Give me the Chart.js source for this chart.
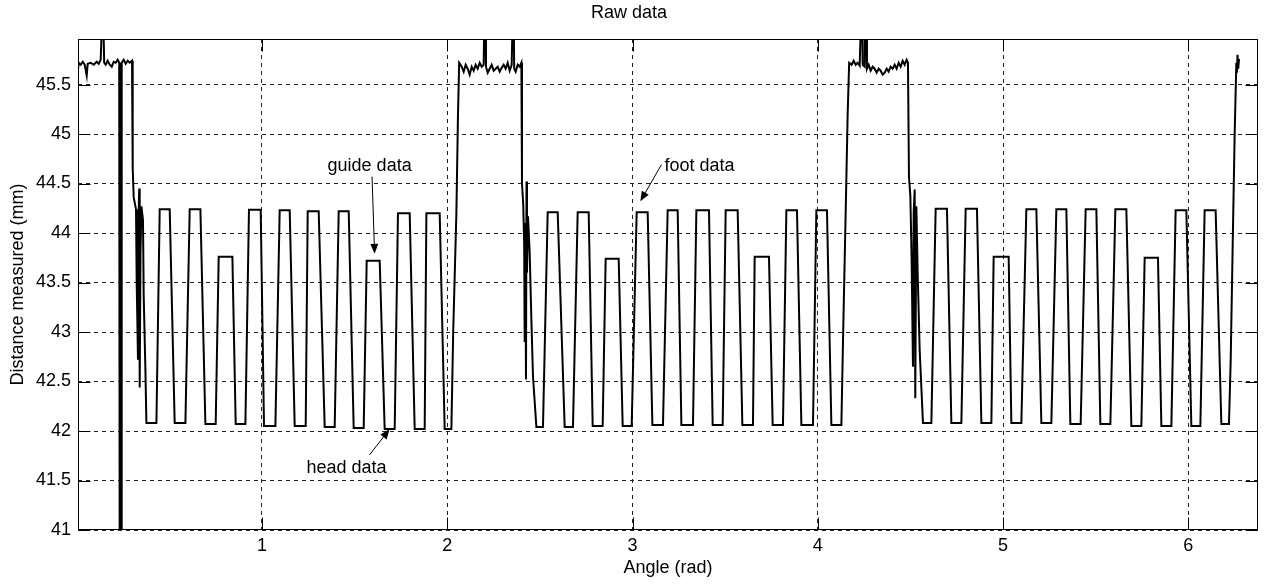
<!DOCTYPE html>
<html>
<head>
<meta charset="utf-8">
<title>Raw data</title>
<script src="https://cdn.jsdelivr.net/npm/chart.js@4.4.1/dist/chart.umd.min.js"></script>
<style>
  body { margin: 0; background: #fff; }
</style>
</head>
<body>
<canvas id="rawChart" width="1265" height="585"></canvas>
<script>
// angle (rad) / distance (mm)

// flat parts and transitions, [angle, distance]
const plateau1 = [[0.0054,45.62],[0.0108,45.72],[0.0216,45.70],[0.0324,45.73],[0.0432,45.70],[0.0540,45.59],
  [0.0594,45.71],[0.0756,45.72],[0.0918,45.70],[0.1079,45.73],[0.1187,45.71],[0.1295,45.75],[0.1376,46.2],
  [0.1430,46.2],[0.1484,45.72],[0.1565,45.70],[0.1673,45.74],[0.1781,45.70],[0.1889,45.68],[0.1997,45.73],
  [0.2105,45.72],[0.2213,45.75],[0.2294,45.72],[0.2321,40.5],[0.2402,40.5],[0.2429,45.72],[0.2537,45.75],
  [0.2645,45.71],[0.2753,45.74],[0.2861,45.72],[0.2985,45.74]];
const drop1 = [[0.3022,44.66],[0.3076,44.36],[0.3201,44.24],[0.3238,43.5],[0.3308,42.72],[0.3335,44.1],
  [0.3373,44.45],[0.3400,42.44],[0.3443,43.8],[0.3492,44.27],[0.3578,44.13],[0.3616,43.36],[0.3708,42.62]];
const rise1 = [[2.0321,43.0],[2.0493,44.2],[2.0580,45.2],[2.0644,45.72]];
const plateau2 = [[2.0671,45.72],[2.0779,45.68],[2.0887,45.63],[2.0995,45.70],[2.1103,45.66],[2.1211,45.60],
  [2.1319,45.68],[2.1427,45.64],[2.1535,45.70],[2.1643,45.66],[2.1750,45.72],[2.1858,45.68],[2.1966,45.70],
  [2.2004,46.2],[2.2058,46.2],[2.2091,45.68],[2.2182,45.62],[2.2290,45.66],[2.2398,45.70],[2.2506,45.64],
  [2.2614,45.66],[2.2722,45.68],[2.2830,45.63],[2.2938,45.67],[2.3046,45.70],[2.3154,45.66],[2.3262,45.72],
  [2.3370,45.64],[2.3478,45.70],[2.3532,46.2],[2.3586,46.2],[2.3613,45.66],[2.3694,45.63],[2.3802,45.70],
  [2.3910,45.68],[2.4001,45.72]];
const drop2 = [[2.4034,44.5],[2.4099,44.3],[2.4152,43.9],[2.4179,42.9],[2.4206,44.1],[2.4250,42.52],
  [2.4277,44.52],[2.4304,43.6],[2.4358,44.17],[2.4449,43.8],[2.4541,43.12],[2.4628,42.55]];
const rise2 = [[4.1370,43.0],[4.1504,44.2],[4.1612,45.2],[4.1693,45.72]];
const plateau3 = [[4.1828,45.70],[4.1936,45.74],[4.2044,45.70],[4.2152,45.72],[4.2260,45.69],[4.2341,46.2],
  [4.2395,46.2],[4.2422,45.70],[4.2530,45.68],[4.2568,46.2],[4.2622,46.2],[4.2654,45.66],[4.2746,45.70],
  [4.2854,45.64],[4.2962,45.68],[4.3070,45.66],[4.3178,45.62],[4.3286,45.66],[4.3393,45.64],[4.3501,45.60],
  [4.3609,45.62],[4.3717,45.66],[4.3825,45.63],[4.3933,45.68],[4.4041,45.66],[4.4149,45.70],[4.4257,45.66],
  [4.4365,45.72],[4.4473,45.68],[4.4581,45.74],[4.4689,45.70],[4.4797,45.75],[4.4867,45.72]];
const drop3 = [[4.4921,44.57],[4.4997,44.37],[4.5067,43.7],[4.5137,42.65],[4.5175,44.2],[4.5229,44.44],
  [4.5261,42.33],[4.5320,44.27],[4.5390,43.6],[4.5498,42.82]];
const rise3 = [[6.2284,42.7],[6.2408,44.03],[6.2500,45.0],[6.2591,45.72],[6.2624,45.62],[6.2655,45.8],
  [6.2693,45.66],[6.2736,45.76]];

// oscillations: [start angle, end angle, level] of each flat bottom / top
const troughs1 = [[0.3762,0.4302,42.08],[0.5289,0.5867,42.08],[0.6946,0.7502,42.07],[0.8582,0.9105,42.07],
  [1.0109,1.0724,42.05],[1.1766,1.2360,42.05],[1.3385,1.3925,42.04],[1.4950,1.5490,42.03],
  [1.6623,1.7163,42.02],[1.8243,1.8782,42.02],[1.9862,2.0223,42.02]];
const crests1 = [[0.4480,0.5019,44.24],[0.6099,0.6676,44.24],[0.7664,0.8403,43.76],[0.9299,0.9931,44.235],
  [1.0956,1.1496,44.23],[1.2468,1.3061,44.22],[1.4141,1.4681,44.22],[1.5652,1.6354,43.72],
  [1.7341,1.7973,44.20],[1.8874,1.9592,44.20]];
const troughs2 = [[2.4811,2.5167,42.04],[2.6338,2.6786,42.04],[2.7850,2.8389,42.05],[2.9469,2.9954,42.05],
  [3.1072,3.1644,42.06],[3.2637,3.3263,42.06],[3.4326,3.4866,42.06],[3.5929,3.6501,42.06],
  [3.7565,3.8120,42.06],[3.9114,3.9740,42.06],[4.0733,4.1273,42.06]];
const crests2 = [[2.5421,2.5961,44.21],[2.7040,2.7634,44.21],[2.8551,2.9253,43.74],[3.0224,3.0818,44.21],
  [3.1897,3.2437,44.23],[3.3446,3.4127,44.23],[3.5028,3.5675,44.23],[3.6593,3.7365,43.76],
  [3.8304,3.8876,44.23],[3.9923,4.0495,44.23]];
const troughs3 = [[4.5677,4.6130,42.08],[4.7209,4.7749,42.08],[4.8829,4.9368,42.08],[5.0447,5.0987,42.08],
  [5.2067,5.2606,42.08],[5.3632,5.4188,42.07],[5.5251,5.5791,42.07],[5.6925,5.7464,42.05],
  [5.8544,5.9084,42.05],[6.0163,6.0649,42.05],[6.1782,6.2192,42.07]];
const crests3 = [[4.6362,4.6972,44.245],[4.7981,4.8591,44.245],[4.9492,5.0302,43.76],[5.1257,5.1797,44.24],
  [5.2876,5.3416,44.24],[5.4458,5.5035,44.24],[5.6061,5.6654,44.24],[5.7643,5.8361,43.75],
  [5.9315,5.9893,44.23],[6.0880,6.1473,44.23]];

const yTicks = [41, 41.5, 42, 42.5, 43, 43.5, 44, 44.5, 45, 45.5];
const xTicks = [1, 2, 3, 4, 5, 6];

// labels with arrows: text position, arrow tail, arrow tip
const notes = [
  { text: 'guide data', at: [1.581, 44.68], from: [1.594, 44.57], to: [1.608, 43.79] },
  { text: 'head data', at: [1.456, 41.63], from: [1.581, 41.76], to: [1.689, 42.02] },
  { text: 'foot data', at: [3.362, 44.68], from: [3.156, 44.69], to: [3.042, 44.32] }
];

function pairs(list) {
  return list.map(p => ({ x: p[0], y: p[1] }));
}

function waves(troughs, crests) {
  const pts = [];
  troughs.forEach((t, i) => {
    pts.push({ x: t[0], y: t[2] }, { x: t[1], y: t[2] });
    if (crests[i]) pts.push({ x: crests[i][0], y: crests[i][2] }, { x: crests[i][1], y: crests[i][2] });
  });
  return pts;
}

const trace = [].concat(
  pairs(plateau1), pairs(drop1), waves(troughs1, crests1), pairs(rise1),
  pairs(plateau2), pairs(drop2), waves(troughs2, crests2), pairs(rise2),
  pairs(plateau3), pairs(drop3), waves(troughs3, crests3), pairs(rise3)
);

Chart.defaults.font.family = "'Liberation Sans', Arial, sans-serif";
Chart.defaults.font.size = 18;
Chart.defaults.color = '#000';

// box, inner tick marks and the arrow labels
const matlabAxes = {
  id: 'matlabAxes',
  afterDatasetsDraw(chart) {
    const { ctx, chartArea: a, scales: { x, y } } = chart;
    const L = Math.round(a.left) + 0.5, R = Math.round(a.right) - 0.5;
    const T = Math.round(a.top) + 0.5, B = Math.round(a.bottom) - 0.5;
    ctx.save();
    ctx.strokeStyle = '#000';
    ctx.lineWidth = 1;
    ctx.beginPath();
    xTicks.forEach(v => {
      const px = Math.round(x.getPixelForValue(v)) + 0.5;
      ctx.moveTo(px, B); ctx.lineTo(px, B - 12);
      ctx.moveTo(px, T); ctx.lineTo(px, T + 12);
    });
    yTicks.forEach(v => {
      const py = Math.round(y.getPixelForValue(v)) + 0.5;
      ctx.moveTo(L, py); ctx.lineTo(L + 12, py);
      ctx.moveTo(R, py); ctx.lineTo(R - 12, py);
    });
    ctx.stroke();
    ctx.strokeRect(L, T, R - L, B - T);

    ctx.fillStyle = '#000';
    ctx.font = "18px 'Liberation Sans', Arial, sans-serif";
    ctx.textAlign = 'center';
    ctx.textBaseline = 'middle';
    notes.forEach(n => {
      ctx.fillText(n.text, x.getPixelForValue(n.at[0]), y.getPixelForValue(n.at[1]));
      const x0 = x.getPixelForValue(n.from[0]), y0 = y.getPixelForValue(n.from[1]);
      const x1 = x.getPixelForValue(n.to[0]), y1 = y.getPixelForValue(n.to[1]);
      const ang = Math.atan2(y1 - y0, x1 - x0);
      ctx.beginPath();
      ctx.moveTo(x0, y0);
      ctx.lineTo(x1 - 8 * Math.cos(ang), y1 - 8 * Math.sin(ang));
      ctx.stroke();
      ctx.beginPath();
      ctx.moveTo(x1, y1);
      ctx.lineTo(x1 - 10 * Math.cos(ang) + 4 * Math.sin(ang), y1 - 10 * Math.sin(ang) - 4 * Math.cos(ang));
      ctx.lineTo(x1 - 10 * Math.cos(ang) - 4 * Math.sin(ang), y1 - 10 * Math.sin(ang) + 4 * Math.cos(ang));
      ctx.closePath();
      ctx.fill();
    });
    ctx.restore();
  }
};

var rawChart = new Chart(document.getElementById('rawChart'), {
  type: 'scatter',
  data: {
    datasets: [{
      label: 'Raw data',
      data: trace,
      showLine: true,
      borderColor: '#000',
      borderWidth: 2,
      pointRadius: 0,
      tension: 0,
      clip: 0
    }]
  },
  options: {
    responsive: false,
    animation: false,
    events: [],
    layout: { padding: { left: 0, right: 7, top: 0, bottom: 0 } },
    plugins: {
      legend: { display: false },
      tooltip: { enabled: false },
      title: {
        display: true,
        text: 'Raw data',
        font: { size: 18, weight: 'normal' },
        color: '#000',
        padding: { top: 2, bottom: 15.4 }
      }
    },
    scales: {
      x: {
        type: 'linear',
        min: 0.007,
        max: 6.376,
        afterFit: function (scale) { scale.height = 55; },
        ticks: { stepSize: 1, includeBounds: false, padding: 5, maxRotation: 0 },
        grid: { color: '#222', drawTicks: false },
        border: { display: false, dash: [4, 4] },
        title: { display: true, text: 'Angle (rad)', padding: { top: 0, bottom: 6 } }
      },
      y: {
        min: 41,
        max: 45.96,
        afterFit: function (scale) { scale.width = 78; },
        ticks: {
          stepSize: 0.5,
          includeBounds: false,
          padding: 7,
          callback: function (value) { return String(Number(value.toFixed(1))); }
        },
        grid: { color: '#222', drawTicks: false },
        border: { display: false, dash: [4, 4] },
        title: { display: true, text: 'Distance measured (mm)', padding: { top: 7, bottom: 0 } }
      }
    }
  },
  plugins: [matlabAxes]
});
</script>
</body>
</html>
